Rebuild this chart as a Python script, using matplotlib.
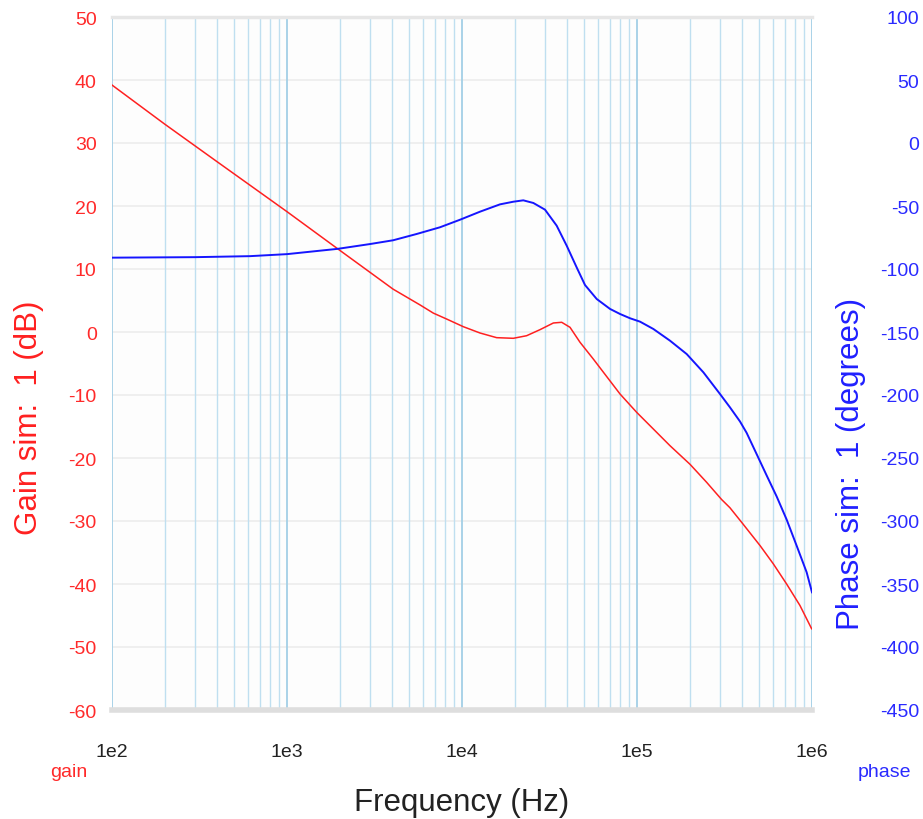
import matplotlib
matplotlib.use("Agg")
import matplotlib.pyplot as plt
from matplotlib.ticker import FixedLocator, NullFormatter

plt.rcParams['font.family'] = ['Liberation Sans', 'DejaVu Sans']
plt.rcParams['axes.unicode_minus'] = False

# Gain curve (Hz, dB)
gain_freq = [100, 200, 400, 1000, 1950, 4040, 5754, 6855, 8167, 10180, 12680, 15780,
             19650, 23400, 27900, 33270, 37130, 41430, 47240, 56270, 79980, 99560,
             124000, 154400, 200900, 250000, 304700, 339800, 396000, 504700, 601000,
             716000, 853000, 995000]
gain_db = [39.2, 33.0, 27.0, 19.1, 13.2, 6.8, 4.3, 3.0, 2.06, 0.84, -0.16, -0.9,
           -1.0, -0.59, 0.37, 1.43, 1.54, 0.74, -1.63, -4.29, -9.84, -12.75,
           -15.4, -18.05, -21.0, -23.86, -26.6, -27.9, -30.2, -33.9, -36.8,
           -40.0, -43.4, -47.1]

# Phase curve (Hz, degrees)
phase_freq = [100, 300, 615, 1000, 1950, 2980, 4040, 5510, 7480, 9740, 12680, 16480,
              19650, 22400, 25570, 29800, 34750, 39650, 45200, 50450, 58850, 70150,
              79980, 91260, 104100, 124000, 154400, 192300, 239500, 298000, 339800,
              387700, 423000, 483000, 551300, 628000, 716000, 817000, 932000, 1000000]
phase_deg = [-91.0, -90.6, -89.8, -88.2, -84.0, -80.2, -77.2, -72.2, -66.9, -60.9, -54.5,
             -48.7, -46.6, -45.5, -47.6, -52.9, -65.6, -81.5, -98.7, -112.7, -123.8,
             -131.7, -135.7, -139.1, -141.8, -147.6, -156.9, -167.5, -182.0, -199.2,
             -209.8, -221.0, -230.0, -247.0, -264.0, -280.5, -298.8, -319.6, -340.7,
             -356.6]

gain_ticks = list(range(-60, 51, 10))
phase_ticks = list(range(-450, 101, 50))
x_major = [1e2, 1e3, 1e4, 1e5, 1e6]
x_labels = ['1e2', '1e3', '1e4', '1e5', '1e6']

W, H = 923, 820
fig = plt.figure(figsize=(W / 100, H / 100), dpi=100)
L, R, T, B = 112, 812, 18, 711
ax = fig.add_axes([L / W, 1 - B / H, (R - L) / W, (B - T) / H])
ax.set_facecolor('#fdfdfd')

ax.set_xscale('log')
ax.set_xlim(1e2, 1e6)
ax.set_ylim(-60, 50)

# grid lines
minor = [m * 10 ** e for e in range(2, 6) for m in range(2, 10)]
for xv in minor:
    ax.axvline(xv, color='#bfdff0', lw=1.0, zorder=1)
for xv in x_major:
    ax.axvline(xv, color='#a3cfe6', lw=1.3, zorder=1)
for yv in gain_ticks:
    ax.axhline(yv, color='#ededed', lw=1.2, zorder=0.5)

for s in ['left', 'right']:
    ax.spines[s].set_visible(False)
ax.spines['top'].set_color('#e6e6e6')
ax.spines['top'].set_linewidth(2.5)
ax.spines['bottom'].set_color('#dedede')
ax.spines['bottom'].set_linewidth(4)

ax.plot(gain_freq, gain_db, color='#ff2020', lw=1.1, zorder=3)

ax.xaxis.set_major_locator(FixedLocator(x_major))
ax.set_xticklabels(x_labels)
ax.xaxis.set_minor_formatter(NullFormatter())
ax.tick_params(axis='x', which='both', length=0, pad=24, labelsize=14, labelcolor='#222222')
ax.set_yticks(gain_ticks)
ax.tick_params(axis='y', length=0, pad=11, labelsize=14, labelcolor='#ff2a2a')

ax2 = ax.twinx()
ax2.set_ylim(-450, 100)
ax2.set_yticks(phase_ticks)
ax2.tick_params(axis='y', length=0, pad=77, labelsize=14, labelcolor='#2a2aff')
for lab in ax2.get_yticklabels():
    lab.set_horizontalalignment('right')
for s in ['left', 'right', 'top', 'bottom']:
    ax2.spines[s].set_visible(False)
ax2.plot(phase_freq, phase_deg, color='#1515ff', lw=1.4, zorder=3)

fig.text(29 / W, 1 - 418 / H, 'Gain sim:  1 (dB)', rotation=90, color='#ff2020',
         fontsize=22.5, ha='center', va='center')
fig.text(851 / W, 1 - 464 / H, 'Phase sim:  1 (degrees)', rotation=90, color='#2020ff',
         fontsize=22.5, ha='center', va='center')
fig.text(69 / W, 1 - 773 / H, 'gain', color='#ff2a2a', fontsize=14, ha='center', va='center')
fig.text(884 / W, 1 - 773 / H, 'phase', color='#2a2aff', fontsize=14, ha='center', va='center')
fig.text(462 / W, 1 - 803 / H, 'Frequency (Hz)', color='#222222', fontsize=22.5,
         ha='center', va='center')

fig.savefig('out.png', dpi=100)
